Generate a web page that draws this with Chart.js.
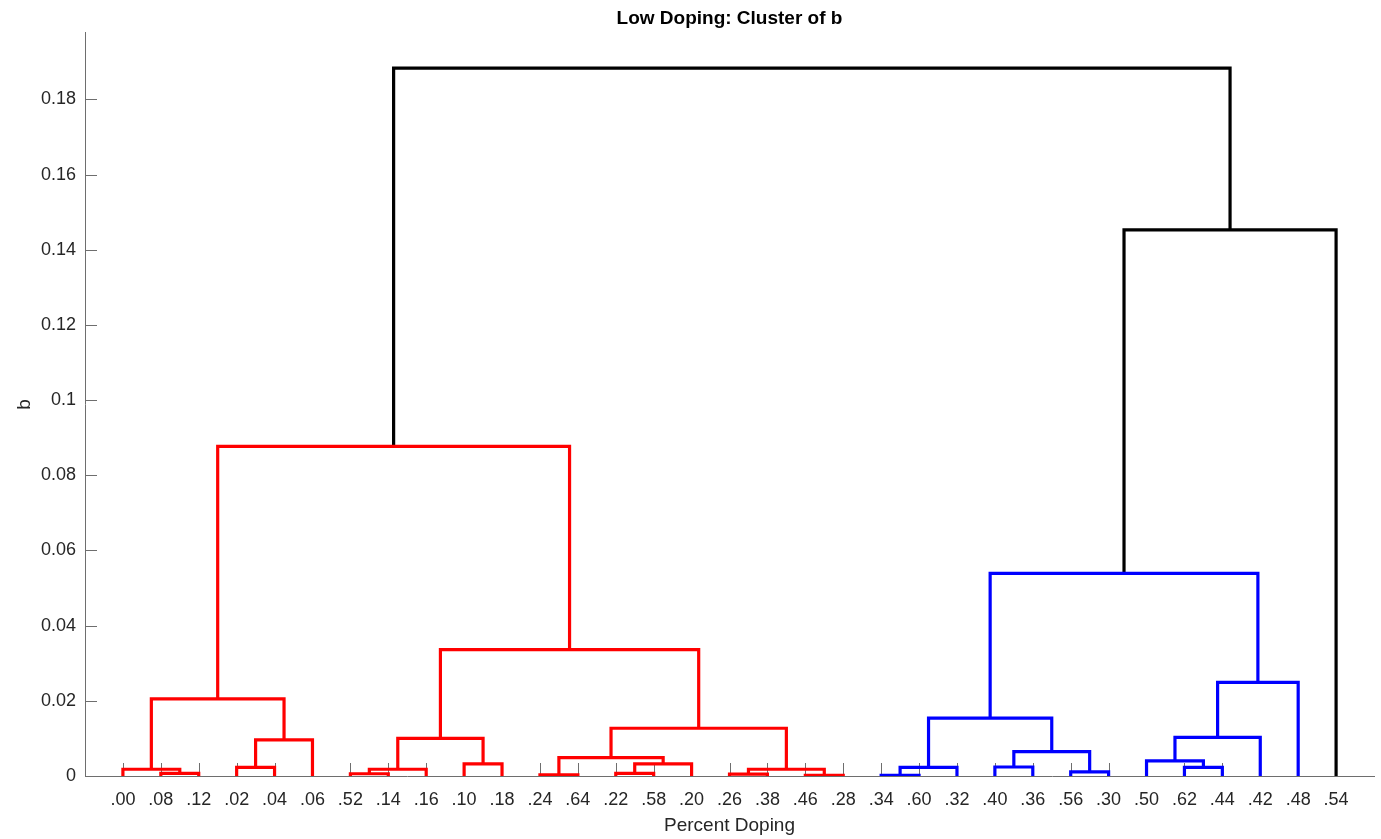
<!DOCTYPE html>
<html>
<head>
<meta charset="utf-8">
<title>Low Doping: Cluster of b</title>
<script src="https://cdn.jsdelivr.net/npm/chart.js@4.4.0/dist/chart.umd.min.js"></script>
<style>
  html, body { margin:0; padding:0; background:#fff; }
  #wrap { width:1381px; height:839px; position:relative; }
</style>
</head>
<body>
<div id="wrap"><canvas id="c"></canvas></div>
<script>
// leaf order along the x axis (percent doping)
const leaves = ['.00','.08','.12','.02','.04','.06','.52','.14','.16','.10','.18',
  '.24','.64','.22','.58','.20','.26','.38','.46','.28',
  '.34','.60','.32','.40','.36','.56','.30','.50','.62','.44','.42','.48','.54'];

// linkage: merge k joins linkA[k] and linkB[k] at linkHeight[k]
// (a child is either a leaf label or 'm'+index of an earlier merge)
const linkA = ['.08','.00','.02','m2','m1','.52','m5','.10','m6','.24','.22','m10','m9',
  '.26','.46','m13','m12','m8','m4','.34','m19','.40','.56','m21','m20','.62','.50','m26','m27','m24','m29','m18'];
const linkB = ['.12','m0','.04','.06','m3','.14','.16','.18','m7','.64','.58','.20','m11',
  '.38','.28','m14','m15','m16','m17','.60','.32','.36','.30','m22','m23','.44','m25','.42','.48','m28','.54','m30'];
const linkHeight = [0.0007,0.0018,0.0023,0.0096,0.0205,0.0006,0.0018,0.0032,0.0100,0.0003,0.0007,0.0032,0.0049,
  0.0005,0.0002,0.0018,0.0127,0.0336,0.0877,0.0002,0.0023,0.0024,0.0011,0.0065,0.0154,0.0023,0.0040,0.0103,0.0249,0.0539,0.1453,0.1883];

const yTicks = [0,0.02,0.04,0.06,0.08,0.1,0.12,0.14,0.16,0.18];

const FONT = 'Liberation Sans, Arial, Helvetica, sans-serif';
const clusterColors = ['#ff0000','#0000ff'];
const aboveColor = '#000000';
const axisColor = '#6e6e6e';
const textColor = '#262626';

// x position of every node = leaf slot, or mean of its two children
const pos = {}, hgt = {}, parent = {};
leaves.forEach((l,i)=>{ pos[l]=i+1; hgt[l]=0; });
linkHeight.forEach((h,k)=>{
  const id='m'+k;
  pos[id]=(pos[linkA[k]]+pos[linkB[k]])/2;
  hgt[id]=h;
  parent[linkA[k]]=id; parent[linkB[k]]=id;
});

// colour groups like matlab: below 0.7*max height
const thr = 0.7*Math.max(...linkHeight);
function rootOf(id){
  while(parent[id] && hgt[parent[id]]<thr) id=parent[id];
  return id;
}
const roots = [];
linkHeight.forEach((h,k)=>{
  if(h>=thr) return;
  const r=rootOf('m'+k);
  if(!roots.includes(r)) roots.push(r);
});
roots.sort((a,b)=>pos[a]-pos[b]);

const datasets = linkHeight.map((h,k)=>{
  const a=linkA[k], b=linkB[k];
  const col = h<thr ? clusterColors[roots.indexOf(rootOf('m'+k))%clusterColors.length] : aboveColor;
  return {
    data:[{x:pos[a],y:hgt[a]},{x:pos[a],y:h},{x:pos[b],y:h},{x:pos[b],y:hgt[b]}],
    showLine:true, borderColor:col, borderWidth:3.2, pointRadius:0,
    borderJoinStyle:'miter', borderCapStyle:'butt', tension:0
  };
});

// inward ticks, drawn with the chart's own scales
const inwardTicks = {
  id:'inwardTicks',
  beforeDatasetsDraw(chart){
    const {ctx, chartArea, scales:{x,y}} = chart;
    ctx.save();
    ctx.strokeStyle=axisColor; ctx.lineWidth=1;
    ctx.beginPath();
    leaves.forEach((l,i)=>{
      const px=Math.round(x.getPixelForValue(i+1))+0.5;
      ctx.moveTo(px,chartArea.bottom); ctx.lineTo(px,chartArea.bottom-13);
    });
    yTicks.forEach(v=>{
      const py=Math.round(y.getPixelForValue(v))+0.5;
      ctx.moveTo(chartArea.left,py); ctx.lineTo(chartArea.left+12,py);
    });
    ctx.stroke();
    ctx.restore();
  }
};

new Chart(document.getElementById('c'),{
  type:'scatter',
  data:{datasets},
  plugins:[inwardTicks],
  options:{
    responsive:true, maintainAspectRatio:false, animation:false,
    layout:{padding:{left:0,right:7,top:0,bottom:0}},
    plugins:{
      legend:{display:false},
      tooltip:{enabled:false},
      title:{display:true,fullSize:false,text:'Low Doping: Cluster of b',color:'#000',
        font:{family:FONT,size:19,weight:'bold'},padding:{top:7,bottom:3}}
    },
    scales:{
      x:{
        type:'linear', min:0, max:leaves.length+1,
        afterBuildTicks(s){ s.ticks = leaves.map((_,i)=>({value:i+1})); },
        afterFit(s){ s.height=63; },
        ticks:{autoSkip:false,maxRotation:0,minRotation:0,padding:13,color:textColor,
          font:{family:FONT,size:18},
          callback:(v,i)=>leaves[i]},
        grid:{display:true,drawOnChartArea:false,drawTicks:false},
        border:{display:true,color:axisColor,width:1},
        title:{display:true,text:'Percent Doping',color:textColor,
          font:{family:FONT,size:19},padding:{top:0,bottom:2}}
      },
      y:{
        min:0, max:1.05*Math.max(...linkHeight),
        afterBuildTicks(s){ s.ticks = yTicks.map(v=>({value:v})); },
        afterFit(s){ s.width=85; },
        ticks:{padding:9,color:textColor,font:{family:FONT,size:18},
          callback:v=>String(parseFloat(v.toFixed(4)))},
        grid:{display:true,drawOnChartArea:false,drawTicks:false},
        border:{display:true,color:axisColor,width:1},
        title:{display:true,text:'b',color:textColor,
          font:{family:FONT,size:19},padding:{top:13,bottom:0}}
      }
    }
  }
});
</script>
</body>
</html>
